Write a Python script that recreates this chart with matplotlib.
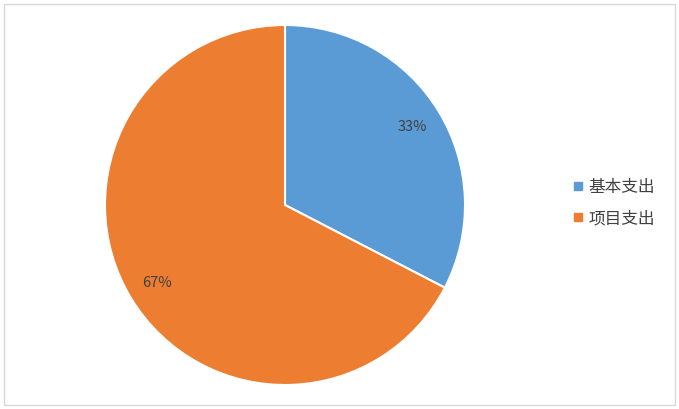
import matplotlib
matplotlib.use("Agg")
import matplotlib.pyplot as plt
from matplotlib.lines import Line2D
from matplotlib.patches import Rectangle

plt.rcParams['font.family'] = ['Noto Sans CJK SC', 'DejaVu Sans']

categories = ['基本支出', '项目支出']
values = [32.6, 67.4]
colors = ['#5B9BD5', '#ED7D31']

W, H = 679, 409
fig = plt.figure(figsize=(W/100, H/100), dpi=100)
fig.patch.set_facecolor('white')

# border
fig.patches.append(Rectangle((4/W, 4/H), 671/W, 401/H, transform=fig.transFigure,
                             fill=False, edgecolor='#D9D9D9', linewidth=1))

cx, cy, r = 285, 205, 180
ax = fig.add_axes([(cx - r)/W, (H - cy - r)/H, 2*r/W, 2*r/H])
wedges, texts, autotexts = ax.pie(values, colors=colors, startangle=90, counterclock=False,
                                  autopct='%1.0f%%', pctdistance=0.83,
                                  wedgeprops=dict(edgecolor='white', linewidth=1.5),
                                  textprops=dict(color='#404040', fontsize=10.5))
ax.set_xlim(-1, 1)
ax.set_ylim(-1, 1)
ax.axis('off')

handles = [Line2D([0], [0], marker='s', linestyle='none', markersize=6,
                  markerfacecolor=c, markeredgecolor=c) for c in colors]
fig.legend(handles, categories, loc='center left', bbox_to_anchor=(555/W, 1 - 203/H),
           frameon=False, fontsize=12, labelcolor='#404040', handletextpad=0.1,
           labelspacing=0.85, handlelength=1.0)

fig.savefig('out.png', dpi=100)
